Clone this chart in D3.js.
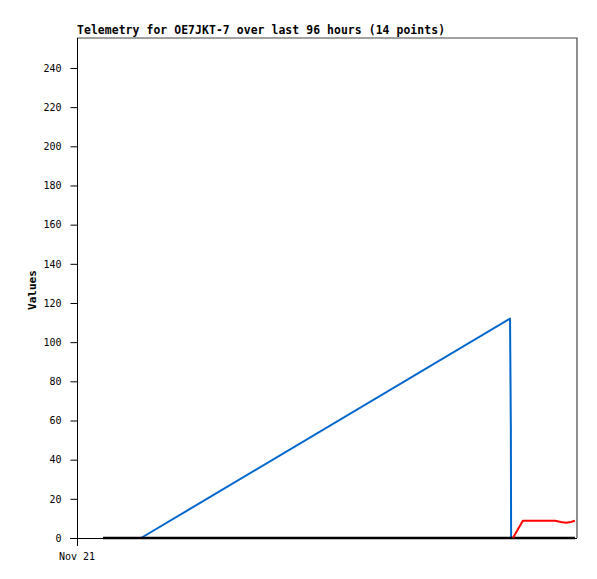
<!DOCTYPE html>
<html>
<head>
<meta charset="utf-8">
<script src="https://cdn.jsdelivr.net/npm/d3@7"></script>
<style>
  body { margin: 0; background: #fff; }
  svg { display: block; }
  text { font-family: "DejaVu Sans Mono", monospace; }
</style>
</head>
<body>
<script>
// chart data (hours after Nov 21 00:00)
const titleText = "Telemetry for OE7JKT-7 over last 96 hours (14 points)";
const blackHours = [5.0, 95.6];
const blackValues = [0, 0];
const blueHours = [5.0, 12.3, 83.14, 83.3, 83.35];
const blueValues = [0, 0, 112, 56, 0];
const redHours = [83.7, 85.6, 91.8, 92.9, 93.9, 94.8, 95.6];
const redValues = [0, 8.8, 8.8, 8.2, 7.8, 8.2, 8.8];
const yTicks = [0, 20, 40, 60, 80, 100, 120, 140, 160, 180, 200, 220, 240];
const xTickLabel = "Nov 21";

const w = 597, h = 579;
const plotL = 77, plotR = 577, plotT = 38, plotB = 538;
const t0 = new Date(2023, 10, 21, 0, 0);
const hr = d => new Date(t0.getTime() + d * 3600e3);

const svg = d3.select("body").append("svg")
    .attr("width", w)
    .attr("height", h);

const x = d3.scaleTime()
    .domain([t0, hr(96)])
    .range([plotL, plotR]);
const y = d3.scaleLinear()
    .domain([0, 255.3])
    .range([plotB, plotT]);

// frame
svg.append("path")
    .attr("d", `M${plotL},${plotT}H${plotR}V${plotB}`)
    .attr("fill", "none")
    .attr("stroke", "#444")
    .attr("stroke-width", 1.2);

// y axis
const yAxis = svg.append("g")
    .attr("transform", `translate(${plotL + 0.5},0)`)
    .call(d3.axisLeft(y).tickValues(yTicks).tickSize(7).tickSizeOuter(0).tickPadding(9));
yAxis.select(".domain").remove();
yAxis.append("line")
    .attr("x1", 0).attr("x2", 0)
    .attr("y1", plotT).attr("y2", plotB + 8)
    .attr("stroke", "#000");
yAxis.selectAll(".tick line").attr("stroke", "#000");
yAxis.selectAll(".tick text")
    .attr("font-family", "DejaVu Sans Mono, monospace")
    .attr("font-size", "10px")
    .attr("fill", "#000");

// x axis line
svg.append("line")
    .attr("x1", plotL - 7).attr("x2", plotR)
    .attr("y1", plotB + 0.5).attr("y2", plotB + 0.5)
    .attr("stroke", "#000");

svg.append("text")
    .attr("x", x(t0))
    .attr("y", 560)
    .attr("text-anchor", "middle")
    .attr("font-size", "10px")
    .text(xTickLabel);

// series
const line = d3.line()
    .x(d => x(hr(d[0])))
    .y(d => y(d[1]));

function drawSeries(hours, values, color, width) {
    svg.append("path")
        .datum(hours.map((d, i) => [d, values[i]]))
        .attr("d", line)
        .attr("fill", "none")
        .attr("stroke", color)
        .attr("stroke-width", width)
        .attr("stroke-linejoin", "round");
}

drawSeries(blueHours, blueValues, "#0066cc", 2);
drawSeries(blackHours, blackValues, "#000", 2.5);
drawSeries(redHours, redValues, "#ff0000", 2);

// title
svg.append("text")
    .attr("x", plotL)
    .attr("y", 34)
    .attr("font-size", "11.4px")
    .attr("font-weight", "bold")
    .attr("textLength", 368)
    .attr("lengthAdjust", "spacing")
    .text(titleText);

// y label
svg.append("text")
    .attr("transform", "translate(36,290) rotate(-90)")
    .attr("text-anchor", "middle")
    .attr("font-size", "11px")
    .attr("font-weight", "bold")
    .text("Values");
</script>
</body>
</html>
